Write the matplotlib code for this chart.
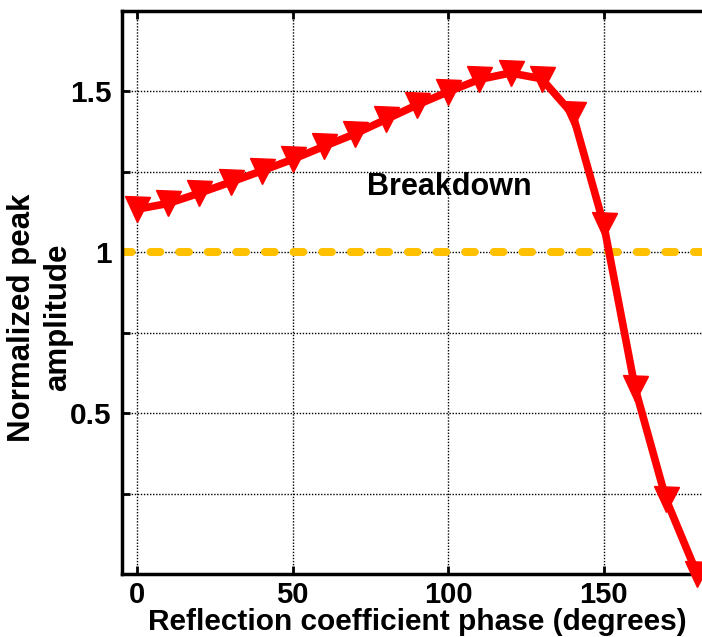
import matplotlib
matplotlib.use("Agg")
import matplotlib.pyplot as plt

# reflection coefficient phase (degrees) and normalized peak amplitude
phase = [0, 10, 20, 30, 40, 50, 60, 70, 80, 90, 100, 110, 120, 130, 140, 150, 160, 170, 180]
amplitude = [1.133, 1.151, 1.183, 1.217, 1.252, 1.288, 1.328, 1.367, 1.412, 1.457,
             1.498, 1.536, 1.556, 1.538, 1.428, 1.084, 0.579, 0.232, 0.0]
breakdown_level = 1.0

xticks = [0, 50, 100, 150]
yticks = [0.25, 0.5, 0.75, 1.0, 1.25, 1.5, 1.75]
ytick_labels = ["", "0.5", "", "1", "", "1.5", ""]

plt.rcParams["font.family"] = ["Liberation Sans", "DejaVu Sans"]
plt.rcParams["font.weight"] = "bold"

fig = plt.figure(figsize=(7.02, 6.37), dpi=100)
# axes runs past the right edge, the original picture is cropped there
ax = fig.add_axes([121.7 / 702, 63 / 637, 591 / 702, 563.5 / 637])

ax.plot([-5, 200], [breakdown_level, breakdown_level], color="#FFC000", lw=5.8,
        linestyle=(0, (1.2, 2.35)), dash_capstyle="round", zorder=2)
ax.plot(phase, amplitude, color="#FF0000", lw=5.5, marker="v", ms=18,
        mec="#FF0000", mfc="#FF0000", clip_on=False, zorder=3)

ax.text(100.2, 1.176, "Breakdown", fontsize=22, fontweight="bold", ha="center",
        va="baseline")

ax.set_xlim(-5, 185)
ax.set_ylim(0, 1.75)
ax.set_xticks(xticks)
ax.set_yticks(yticks)
ax.set_yticklabels(ytick_labels)
ax.grid(True, color="black", linestyle=(0, (1, 1.2)), linewidth=1.0)
ax.set_axisbelow(True)

ax.tick_params(direction="in", length=6, width=2, labelsize=21.5, top=True, right=False,
               pad=7)
ax.tick_params(axis="x", labelsize=21, pad=5)
for lab in ax.get_xticklabels() + ax.get_yticklabels():
    lab.set_fontweight("bold")

for side in ["left", "bottom", "top"]:
    ax.spines[side].set_linewidth(2.5)
ax.spines["right"].set_visible(False)

ax.set_xlabel("Reflection coefficient phase (degrees)", fontsize=21.5, fontweight="bold",
              va="top")
ax.xaxis.set_label_coords(0.5, -0.060)
ax.set_ylabel("Normalized peak\namplitude", fontsize=22.5, fontweight="bold",
              va="center", linespacing=1.25)
ax.yaxis.set_label_coords(-0.138, 0.455)

fig.savefig("out.png", dpi=100)
